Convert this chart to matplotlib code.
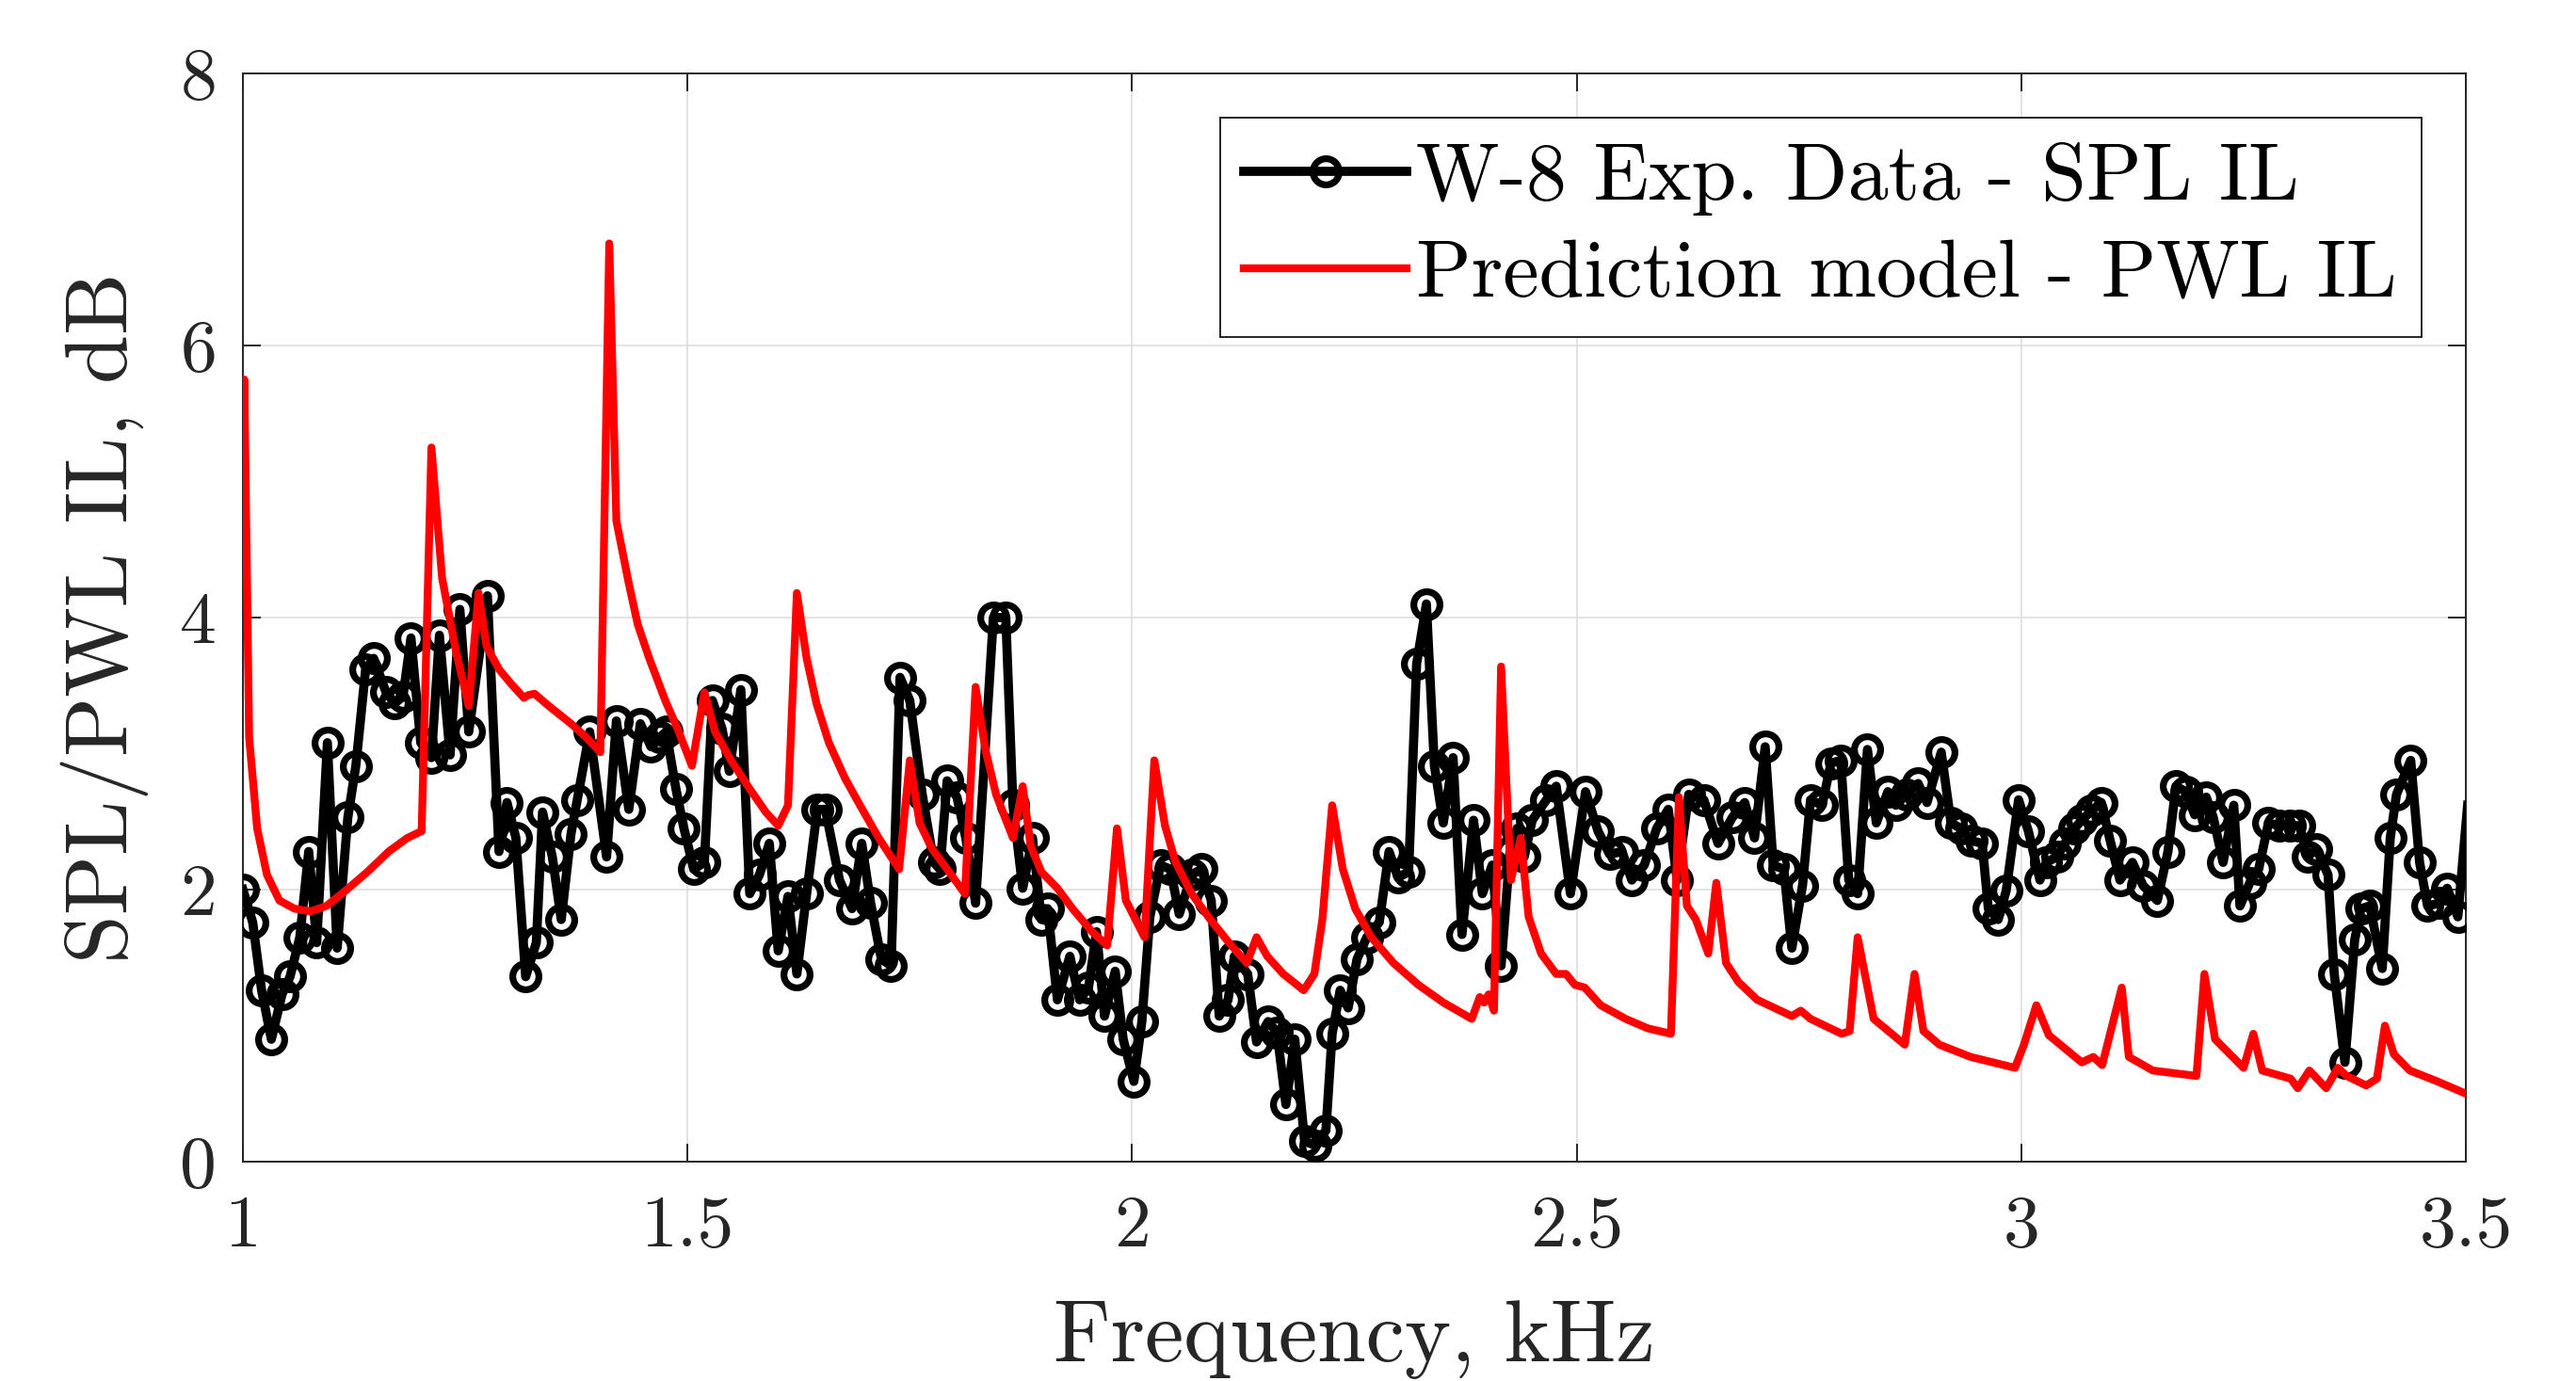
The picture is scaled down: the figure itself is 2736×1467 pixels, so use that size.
import numpy as np
import matplotlib
matplotlib.use("Agg")
import matplotlib.pyplot as plt

# ---------------- data ----------------
exp_freq = [1.000, 1.011, 1.021, 1.032, 1.044, 1.053, 1.064, 1.074, 1.083, 1.095,
            1.106, 1.118, 1.127, 1.138, 1.147, 1.161, 1.171, 1.180, 1.189, 1.200,
            1.212, 1.221, 1.233, 1.244, 1.254, 1.275, 1.288, 1.297, 1.307, 1.318,
            1.330, 1.337, 1.348, 1.358, 1.369, 1.376, 1.390, 1.409, 1.420, 1.434,
            1.447, 1.459, 1.469, 1.476, 1.487, 1.496, 1.507, 1.519, 1.528, 1.539,
            1.547, 1.560, 1.570, 1.581, 1.592, 1.602, 1.613, 1.623, 1.634, 1.646,
            1.655, 1.671, 1.685, 1.696, 1.706, 1.718, 1.729, 1.739, 1.750, 1.764,
            1.777, 1.784, 1.792, 1.803, 1.813, 1.824, 1.844, 1.858, 1.866, 1.877,
            1.888, 1.898, 1.905, 1.916, 1.930, 1.941, 1.951, 1.960, 1.969, 1.981,
            1.990, 2.002, 2.011, 2.020, 2.032, 2.043, 2.053, 2.067, 2.078, 2.089,
            2.098, 2.108, 2.115, 2.130, 2.140, 2.153, 2.163, 2.173, 2.183, 2.194,
            2.206, 2.218, 2.225, 2.234, 2.243, 2.253, 2.264, 2.278, 2.289, 2.299,
            2.311, 2.320, 2.331, 2.340, 2.350, 2.361, 2.371, 2.384, 2.394, 2.405,
            2.415, 2.425, 2.433, 2.441, 2.450, 2.466, 2.477, 2.493, 2.510, 2.524,
            2.537, 2.551, 2.562, 2.576, 2.590, 2.603, 2.613, 2.626, 2.643, 2.659,
            2.675, 2.689, 2.700, 2.712, 2.721, 2.733, 2.742, 2.754, 2.763, 2.776,
            2.786, 2.797, 2.806, 2.816, 2.827, 2.837, 2.850, 2.859, 2.871, 2.884,
            2.894, 2.910, 2.921, 2.932, 2.944, 2.956, 2.963, 2.974, 2.983, 2.997,
            3.008, 3.021, 3.028, 3.040, 3.049, 3.060, 3.068, 3.079, 3.090, 3.100,
            3.111, 3.125, 3.137, 3.153, 3.165, 3.174, 3.185, 3.195, 3.208, 3.216,
            3.227, 3.239, 3.246, 3.257, 3.267, 3.278, 3.290, 3.302, 3.313, 3.322,
            3.332, 3.345, 3.352, 3.364, 3.375, 3.382, 3.392, 3.406, 3.415, 3.422,
            3.438, 3.448, 3.457, 3.470, 3.479, 3.491, 3.502]
exp_il = [2.00, 1.76, 1.26, 0.90, 1.23, 1.36, 1.65, 2.28, 1.61, 3.08,
          1.57, 2.53, 2.91, 3.62, 3.70, 3.45, 3.37, 3.42, 3.85, 3.08,
          2.97, 3.87, 2.99, 4.06, 3.16, 4.16, 2.28, 2.64, 2.38, 1.36,
          1.61, 2.57, 2.24, 1.78, 2.41, 2.66, 3.16, 2.24, 3.24, 2.59,
          3.22, 3.05, 3.12, 3.16, 2.74, 2.45, 2.15, 2.20, 3.39, 3.18,
          2.87, 3.47, 1.97, 2.11, 2.34, 1.55, 1.95, 1.38, 1.97, 2.59,
          2.59, 2.07, 1.86, 2.34, 1.90, 1.49, 1.44, 3.56, 3.39, 2.70,
          2.20, 2.15, 2.80, 2.68, 2.38, 1.90, 4.00, 4.00, 2.62, 2.01,
          2.38, 1.78, 1.86, 1.19, 1.51, 1.19, 1.28, 1.69, 1.07, 1.40,
          0.90, 0.59, 1.03, 1.80, 2.18, 2.15, 1.82, 2.11, 2.15, 1.92,
          1.07, 1.19, 1.51, 1.38, 0.88, 1.03, 0.95, 0.42, 0.90, 0.15,
          0.12, 0.23, 0.94, 1.26, 1.13, 1.49, 1.65, 1.76, 2.28, 2.09,
          2.13, 3.66, 4.10, 2.91, 2.49, 2.97, 1.67, 2.51, 1.97, 2.18,
          1.44, 2.28, 2.45, 2.24, 2.51, 2.66, 2.76, 1.97, 2.72, 2.43,
          2.26, 2.28, 2.07, 2.18, 2.45, 2.59, 2.07, 2.70, 2.66, 2.34,
          2.53, 2.64, 2.38, 3.05, 2.18, 2.15, 1.57, 2.03, 2.66, 2.62,
          2.93, 2.95, 2.07, 1.97, 3.03, 2.49, 2.72, 2.62, 2.70, 2.78,
          2.64, 3.01, 2.49, 2.45, 2.36, 2.34, 1.86, 1.78, 1.99, 2.66,
          2.43, 2.07, 2.20, 2.24, 2.34, 2.45, 2.51, 2.58, 2.64, 2.36,
          2.07, 2.20, 2.03, 1.92, 2.28, 2.76, 2.72, 2.55, 2.68, 2.53,
          2.20, 2.62, 1.88, 2.05, 2.15, 2.49, 2.47, 2.47, 2.47, 2.24,
          2.30, 2.11, 1.38, 0.73, 1.63, 1.86, 1.88, 1.42, 2.38, 2.70,
          2.95, 2.20, 1.88, 1.90, 2.01, 1.80, 2.62]

model_freq = [1.000, 1.0015, 1.007, 1.016, 1.027, 1.041, 1.058, 1.076, 1.094, 1.115,
              1.140, 1.164, 1.185, 1.201, 1.212, 1.224, 1.240, 1.254, 1.265, 1.274,
              1.288, 1.302, 1.316, 1.321, 1.328, 1.344, 1.369, 1.386, 1.402, 1.412,
              1.420, 1.434, 1.444, 1.457, 1.475, 1.489, 1.505, 1.519, 1.531, 1.549,
              1.570, 1.588, 1.602, 1.613, 1.623, 1.634, 1.645, 1.659, 1.677, 1.694,
              1.715, 1.738, 1.750, 1.761, 1.775, 1.792, 1.812, 1.824, 1.835, 1.847,
              1.866, 1.877, 1.886, 1.898, 1.916, 1.933, 1.955, 1.972, 1.983, 1.993,
              2.014, 2.025, 2.037, 2.049, 2.067, 2.088, 2.109, 2.129, 2.140, 2.152,
              2.170, 2.193, 2.205, 2.214, 2.225, 2.237, 2.251, 2.269, 2.294, 2.322,
              2.350, 2.382, 2.391, 2.396, 2.401, 2.407, 2.415, 2.426, 2.437, 2.446,
              2.460, 2.477, 2.488, 2.498, 2.509, 2.527, 2.555, 2.580, 2.606, 2.615,
              2.624, 2.634, 2.648, 2.657, 2.668, 2.682, 2.703, 2.742, 2.752, 2.763,
              2.798, 2.807, 2.816, 2.834, 2.869, 2.880, 2.890, 2.908, 2.943, 2.993,
              3.003, 3.017, 3.031, 3.068, 3.081, 3.091, 3.113, 3.121, 3.148, 3.197,
              3.206, 3.218, 3.250, 3.261, 3.271, 3.303, 3.311, 3.324, 3.343, 3.356,
              3.366, 3.388, 3.400, 3.409, 3.419, 3.437, 3.468, 3.500]
model_il = [4.56, 5.75, 3.12, 2.45, 2.11, 1.92, 1.86, 1.84, 1.88, 1.99,
            2.13, 2.28, 2.38, 2.43, 5.25, 4.29, 3.74, 3.35, 4.18, 3.79,
            3.62, 3.51, 3.41, 3.43, 3.44, 3.35, 3.22, 3.12, 3.01, 6.75,
            4.71, 4.25, 3.95, 3.70, 3.39, 3.18, 2.91, 3.45, 3.16, 2.95,
            2.74, 2.57, 2.47, 2.62, 4.18, 3.70, 3.37, 3.08, 2.82, 2.62,
            2.38, 2.15, 2.95, 2.49, 2.30, 2.15, 1.97, 3.49, 3.03, 2.70,
            2.38, 2.76, 2.32, 2.13, 2.01, 1.86, 1.69, 1.59, 2.45, 1.92,
            1.65, 2.95, 2.47, 2.20, 1.97, 1.78, 1.61, 1.46, 1.65, 1.51,
            1.38, 1.26, 1.38, 1.78, 2.62, 2.15, 1.86, 1.65, 1.46, 1.30,
            1.17, 1.05, 1.21, 1.17, 1.23, 1.11, 3.64, 2.07, 2.38, 1.80,
            1.53, 1.38, 1.38, 1.30, 1.28, 1.15, 1.05, 0.98, 0.94, 2.68,
            1.88, 1.78, 1.53, 2.05, 1.46, 1.32, 1.19, 1.07, 1.11, 1.05,
            0.94, 0.96, 1.65, 1.05, 0.86, 1.38, 0.96, 0.86, 0.77, 0.69,
            0.86, 1.15, 0.93, 0.73, 0.77, 0.71, 1.28, 0.77, 0.67, 0.63,
            1.38, 0.90, 0.69, 0.94, 0.67, 0.61, 0.54, 0.67, 0.54, 0.69,
            0.63, 0.56, 0.61, 1.00, 0.79, 0.67, 0.59, 0.50]

x_ticks = [1, 1.5, 2, 2.5, 3, 3.5]
x_ticklabels = ["1", "1.5", "2", "2.5", "3", "3.5"]
y_ticks = [0, 2, 4, 6, 8]
y_ticklabels = ["0", "2", "4", "6", "8"]

label_exp = "W-8 Exp. Data - SPL IL"
label_model = "Prediction model - PWL IL"
xlabel = "Frequency, kHz"
ylabel = "SPL/PWL IL, dB"

# ---------------- style ----------------
plt.rcParams["font.family"] = ["cmr10", "DejaVu Serif"]
plt.rcParams["mathtext.fontset"] = "cm"
plt.rcParams["axes.unicode_minus"] = False
plt.rcParams["axes.formatter.use_mathtext"] = True

fig = plt.figure(figsize=(27.36, 14.67), dpi=100)
ax = fig.add_axes([258 / 2736, 1 - 1234 / 1467, (2619 - 258) / 2736, (1234 - 78) / 1467])

xlim = (1, 3.5)
mark_mask = [(xlim[0] <= f <= xlim[1]) for f in exp_freq]

ax.plot(exp_freq, exp_il, color="black", lw=7.0, marker="o", markersize=20,
        markerfacecolor="none", markeredgecolor="black", markeredgewidth=5.2,
        markevery=mark_mask, label=label_exp, zorder=3)
ax.plot(model_freq, model_il, color=(1, 0, 0), lw=6.0, label=label_model, zorder=4)

ax.set_xlim(*xlim)
ax.set_ylim(0, 8)
ax.set_xticks(x_ticks)
ax.set_xticklabels(x_ticklabels)
ax.set_yticks(y_ticks)
ax.set_yticklabels(y_ticklabels)

ax.grid(True, color=(0.87, 0.87, 0.87), lw=1.2)
ax.set_axisbelow(True)
for s in ax.spines.values():
    s.set_color((0.15, 0.15, 0.15))
    s.set_linewidth(1.4)
ax.tick_params(direction="in", length=14, width=1.4, color=(0.15, 0.15, 0.15),
               labelsize=56, top=True, right=True, labelcolor=(0.15, 0.15, 0.15))
ax.tick_params(axis="x", pad=26)
ax.tick_params(axis="y", pad=20)

ax.set_xlabel(xlabel, fontsize=67, color=(0.15, 0.15, 0.15), labelpad=30)
ax.set_ylabel(ylabel, fontsize=67, color=(0.15, 0.15, 0.15), labelpad=24)

leg = ax.legend(loc="upper right", fontsize=62, frameon=True, fancybox=False,
                framealpha=1, edgecolor=(0.15, 0.15, 0.15), borderpad=0.3,
                handlelength=2.0, handletextpad=0.12, labelspacing=0.3,
                borderaxespad=0.55)
leg.get_frame().set_linewidth(1.4)
for t in leg.get_texts():
    t.set_color("black")

fig.savefig("out.png", dpi=100)
